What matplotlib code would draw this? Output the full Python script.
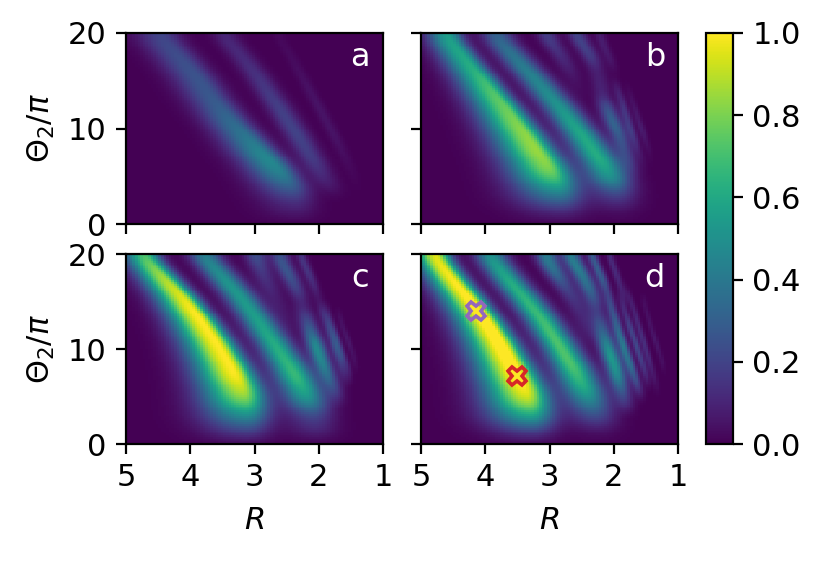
import numpy as np
import matplotlib
matplotlib.use("Agg")
import matplotlib.pyplot as plt

plt.rcParams["font.size"] = 11

x_ticks = [5, 4, 3, 2, 1]
y_ticks = [0, 10, 20]
cbar_ticks = [0.0, 0.2, 0.4, 0.6, 0.8, 1.0]
panel_labels = ["a", "b", "c", "d"]
marker_R = [4.15, 3.5]
marker_theta = [14.0, 7.2]
marker_colors = ["#9467bd", "#d62728"]

# Crest lines: (theta, R, crest value, left width, right width)
wide_theta = [20, 14, 8, 3, 0]
wide_l = [0.22, 0.31, 0.40, 0.47, 0.47]
wide_r = [0.16, 0.16, 0.20, 0.26, 0.28]
mid_theta = [20, 10, 4, 0]
mid_l = [0.17, 0.20, 0.26, 0.30]
mid_r = [0.17, 0.19, 0.22, 0.25]

panel_a = [
    ([20, 16, 12.6, 9.4, 7, 5.5, 3.8, 2.4, 0], [4.53, 3.96, 3.6, 3.18, 2.81, 2.6, 2.42, 2.36, 2.34],
     [0.2, 0.25, 0.28, 0.38, 0.47, 0.45, 0.3, 0.13, 0], [20, 10, 3, 0], [0.27, 0.29, 0.36, 0.38], [20, 5, 0], [0.2, 0.19, 0.24]),
    ([20, 17.1, 12.6, 9.4, 6.6, 4.1, 2.7, 0], [3.54, 3.13, 2.66, 2.34, 2.08, 1.87, 1.72, 1.6],
     [0.1, 0.12, 0.18, 0.2, 0.17, 0.07, 0, 0], [20, 0], [0.14, 0.14], [20, 0], [0.14, 0.14]),
    ([20, 19, 12.6, 9.4, 5.9, 3, 0], [2.7, 2.55, 2.03, 1.77, 1.51, 1.35, 1.3],
     [0.02, 0.02, 0.05, 0.05, 0.02, 0, 0], [20, 0], [0.07, 0.07], [20, 0], [0.07, 0.07]),
]
panel_b = [
    ([20, 16.4, 14, 10.1, 7.6, 5.5, 4.1, 2.7, 1.5, 0], [4.66, 4.2, 3.9, 3.45, 3.18, 2.97, 2.88, 2.83, 2.82, 2.81],
     [0.55, 0.62, 0.72, 0.82, 0.85, 0.8, 0.6, 0.35, 0.13, 0], wide_theta, wide_l, wide_theta, wide_r),
    ([20, 17.1, 12.9, 9.4, 6.6, 4.8, 3.1, 1.5, 0], [3.9, 3.49, 2.92, 2.5, 2.19, 2.03, 1.95, 1.92, 1.9],
     [0.3, 0.4, 0.5, 0.6, 0.62, 0.5, 0.2, 0.04, 0], mid_theta, mid_l, mid_theta, mid_r),
    ([20, 19.5, 17.6, 15, 12.5], [3.12, 3.04, 2.81, 2.6, 2.45], [0.18, 0.18, 0.12, 0.04, 0], [20, 0], [0.11, 0.11], [20, 0], [0.11, 0.11]),
    ([20, 19.2, 17.6, 16.1, 13.4, 12.2, 10.5, 6.6, 4.8], [2.65, 2.53, 2.34, 2.26, 2.17, 2.14, 1.98, 1.77, 1.7],
     [0.2, 0.2, 0.18, 0.08, 0.1, 0.25, 0.33, 0.15, 0], [20, 0], [0.1, 0.1], [20, 0], [0.1, 0.1]),
    ([20, 19.2, 17.2, 15.5], [2.27, 2.18, 2.06, 1.95], [0.08, 0.08, 0.06, 0], [20, 0], [0.055, 0.055], [20, 0], [0.055, 0.055]),
    ([15.5, 14, 11.6, 9.5, 7.1, 5.5], [2.02, 1.93, 1.82, 1.72, 1.59, 1.5], [0, 0.08, 0.16, 0.15, 0.04, 0], [20, 0], [0.05, 0.05], [20, 0], [0.05, 0.05]),
    ([15, 13, 10, 7.5, 6], [1.82, 1.72, 1.57, 1.45, 1.38], [0, 0.04, 0.08, 0.02, 0], [20, 0], [0.04, 0.04], [20, 0], [0.04, 0.04]),
]
panel_c = [
    ([20, 16.9, 14, 10.2, 7.2, 5, 3.6, 2.5, 1.8, 0], [4.79, 4.32, 3.93, 3.54, 3.28, 3.15, 3.12, 3.12, 3.12, 3.12],
     [0.7, 0.9, 1.0, 1.0, 1.0, 0.85, 0.6, 0.4, 0.25, 0.01], wide_theta, wide_l, wide_theta, wide_r),
    ([20, 16.9, 13.75, 10.25, 7.1, 5, 2.9, 0], [3.85, 3.39, 3.02, 2.66, 2.34, 2.19, 2.08, 2.03],
     [0.42, 0.52, 0.55, 0.62, 0.68, 0.55, 0.2, 0], mid_theta, mid_l, mid_theta, mid_r),
    ([20, 17.9, 15.5, 13, 11], [3.02, 2.87, 2.7, 2.5, 2.4], [0.25, 0.15, 0.08, 0.04, 0], [20, 0], [0.12, 0.12], [20, 0], [0.12, 0.12]),
    ([20, 17.9, 16.5, 14.7, 12, 10.2, 8.1, 5.9, 4.3], [2.65, 2.48, 2.34, 2.26, 2.14, 2.03, 1.93, 1.77, 1.69],
     [0.25, 0.27, 0.2, 0.08, 0.3, 0.5, 0.42, 0.2, 0.03], [20, 0], [0.1, 0.1], [20, 0], [0.1, 0.1]),
    ([20, 19.3, 17.9, 16, 14.8], [2.32, 2.26, 2.14, 2.04, 1.98], [0.15, 0.15, 0.15, 0.08, 0], [20, 0], [0.055, 0.055], [20, 0], [0.055, 0.055]),
    ([15.5, 13.9, 10, 7.4, 6], [2.02, 1.93, 1.72, 1.61, 1.55], [0, 0.13, 0.26, 0.1, 0], [20, 0], [0.055, 0.055], [20, 0], [0.055, 0.055]),
    ([14.7, 11.6, 8.8, 6.7], [1.9, 1.75, 1.59, 1.48], [0.03, 0.1, 0.1, 0.02], [20, 0], [0.04, 0.04], [20, 0], [0.04, 0.04]),
    ([14, 11, 8], [1.72, 1.55, 1.4], [0.03, 0.06, 0.03], [20, 0], [0.035, 0.035], [20, 0], [0.035, 0.035]),
]
panel_d = [
    ([20, 16.9, 14, 10.2, 7.2, 5, 3.6, 2.5, 1.5, 0], [4.84, 4.45, 4.08, 3.72, 3.48, 3.33, 3.3, 3.28, 3.27, 3.27],
     [0.95, 1.0, 1.05, 1.05, 1.05, 0.95, 0.72, 0.48, 0.2, 0.01], wide_theta, wide_l, wide_theta, wide_r),
    ([20, 16.9, 13.75, 10.9, 8.1, 5.7, 3.3, 1.5, 0], [3.98, 3.59, 3.18, 2.9, 2.63, 2.45, 2.3, 2.25, 2.23],
     [0.5, 0.62, 0.68, 0.72, 0.72, 0.6, 0.28, 0.05, 0], mid_theta, mid_l, mid_theta, mid_r),
    ([20, 18.3, 16.5, 14.5, 12, 10], [3.1, 2.95, 2.75, 2.55, 2.4, 2.3], [0.42, 0.38, 0.2, 0.12, 0.08, 0], [20, 0], [0.12, 0.12], [20, 0], [0.12, 0.12]),
    ([20, 18.2, 16.5, 14, 11.9, 9.5, 7.5, 5, 3.3], [2.72, 2.53, 2.37, 2.26, 2.18, 2.06, 1.95, 1.86, 1.78],
     [0.42, 0.42, 0.35, 0.15, 0.3, 0.55, 0.5, 0.2, 0.03], [20, 0], [0.1, 0.1], [20, 0], [0.1, 0.1]),
    ([20, 19.3, 17.6, 16, 13, 10.5, 8.4, 6.3, 4.8], [2.38, 2.32, 2.18, 2.1, 1.98, 1.86, 1.75, 1.64, 1.56],
     [0.28, 0.28, 0.3, 0.18, 0.28, 0.4, 0.35, 0.2, 0.03], [20, 0], [0.055, 0.055], [20, 0], [0.055, 0.055]),
    ([20, 17.9, 15.8, 14], [2.1, 1.95, 1.86, 1.78], [0.12, 0.12, 0.08, 0], [20, 0], [0.04, 0.04], [20, 0], [0.04, 0.04]),
    ([16.5, 15.5, 12.3, 9.8, 7.5, 5.7], [1.97, 1.9, 1.75, 1.62, 1.51, 1.44], [0, 0.05, 0.2, 0.22, 0.13, 0], [20, 0], [0.04, 0.04], [20, 0], [0.04, 0.04]),
    ([17, 15.5, 11.9, 9.5, 6.7, 5], [1.85, 1.75, 1.59, 1.48, 1.36, 1.3], [0, 0.07, 0.13, 0.13, 0.05, 0], [20, 0], [0.035, 0.035], [20, 0], [0.035, 0.035]),
    ([15.5, 10.9, 7.8], [1.56, 1.36, 1.2], [0.03, 0.06, 0.03], [20, 0], [0.03, 0.03], [20, 0], [0.03, 0.03]),
]
panels = [panel_a, panel_b, panel_c, panel_d]

R_cells = np.linspace(5, 1, 100)
theta_cells = np.linspace(0, 20, 100)


def soften(y, n=9):
    pad = np.pad(y, n, mode="edge")
    return np.convolve(pad, np.ones(2 * n + 1) / (2 * n + 1), mode="same")[n:-n]


def field(ridges):
    z = np.zeros((theta_cells.size, R_cells.size))
    for th, rc, amp, tl, wl, tr, wr in ridges:
        th = np.asarray(th, float)
        o = np.argsort(th)
        crest = soften(np.interp(theta_cells, th[o], np.asarray(rc)[o]))
        height = soften(np.interp(theta_cells, th[o], np.asarray(amp)[o], left=0, right=0), 3)
        sl = np.interp(theta_cells, tl[::-1], wl[::-1])
        sr = np.interp(theta_cells, tr[::-1], wr[::-1])
        d = R_cells[None, :] - crest[:, None]
        s = np.where(d > 0, sl[:, None], sr[:, None])
        z += height[:, None] * np.exp(-0.5 * (d / s) ** 2)
    return z


fig = plt.figure(figsize=(8.21 / 2, 5.61 / 2), dpi=200)
W, H = 821, 561
boxes = [(126, 33, 257, 191), (421, 33, 257, 191), (126, 254, 257, 190), (421, 254, 257, 190)]
for i, (l, t, w, h) in enumerate(boxes):
    ax = fig.add_axes([l / W, 1 - (t + h) / H, w / W, h / H])
    mesh = ax.pcolormesh(R_cells, theta_cells, field(panels[i]), cmap="viridis",
                         vmin=0, vmax=1, shading="nearest")
    ax.set_xlim(5, 1)
    ax.set_ylim(0, 20)
    ax.set_xticks(x_ticks)
    ax.set_yticks(y_ticks)
    if i < 2:
        ax.set_xticklabels([])
    else:
        ax.set_xlabel("$R$", labelpad=5)
    if i % 2:
        ax.set_yticklabels([])
    else:
        ax.set_ylabel(r"$\Theta_2/\pi$", labelpad=4)
    ax.text(1.36, 17.4, panel_labels[i], color="white", ha="center", va="center", fontsize=11.5)
    if i == 3:
        for rr, tt, cc in zip(marker_R, marker_theta, marker_colors):
            ax.plot([rr], [tt], marker="X", ms=6.5, mfc="none", mec=cc, mew=1.3, ls="none")

cax = fig.add_axes([706 / W, 1 - 444 / H, 27 / W, 411 / H])
cb = fig.colorbar(mesh, cax=cax)
cb.set_ticks(cbar_ticks)
fig.savefig("out.png", dpi=200)
